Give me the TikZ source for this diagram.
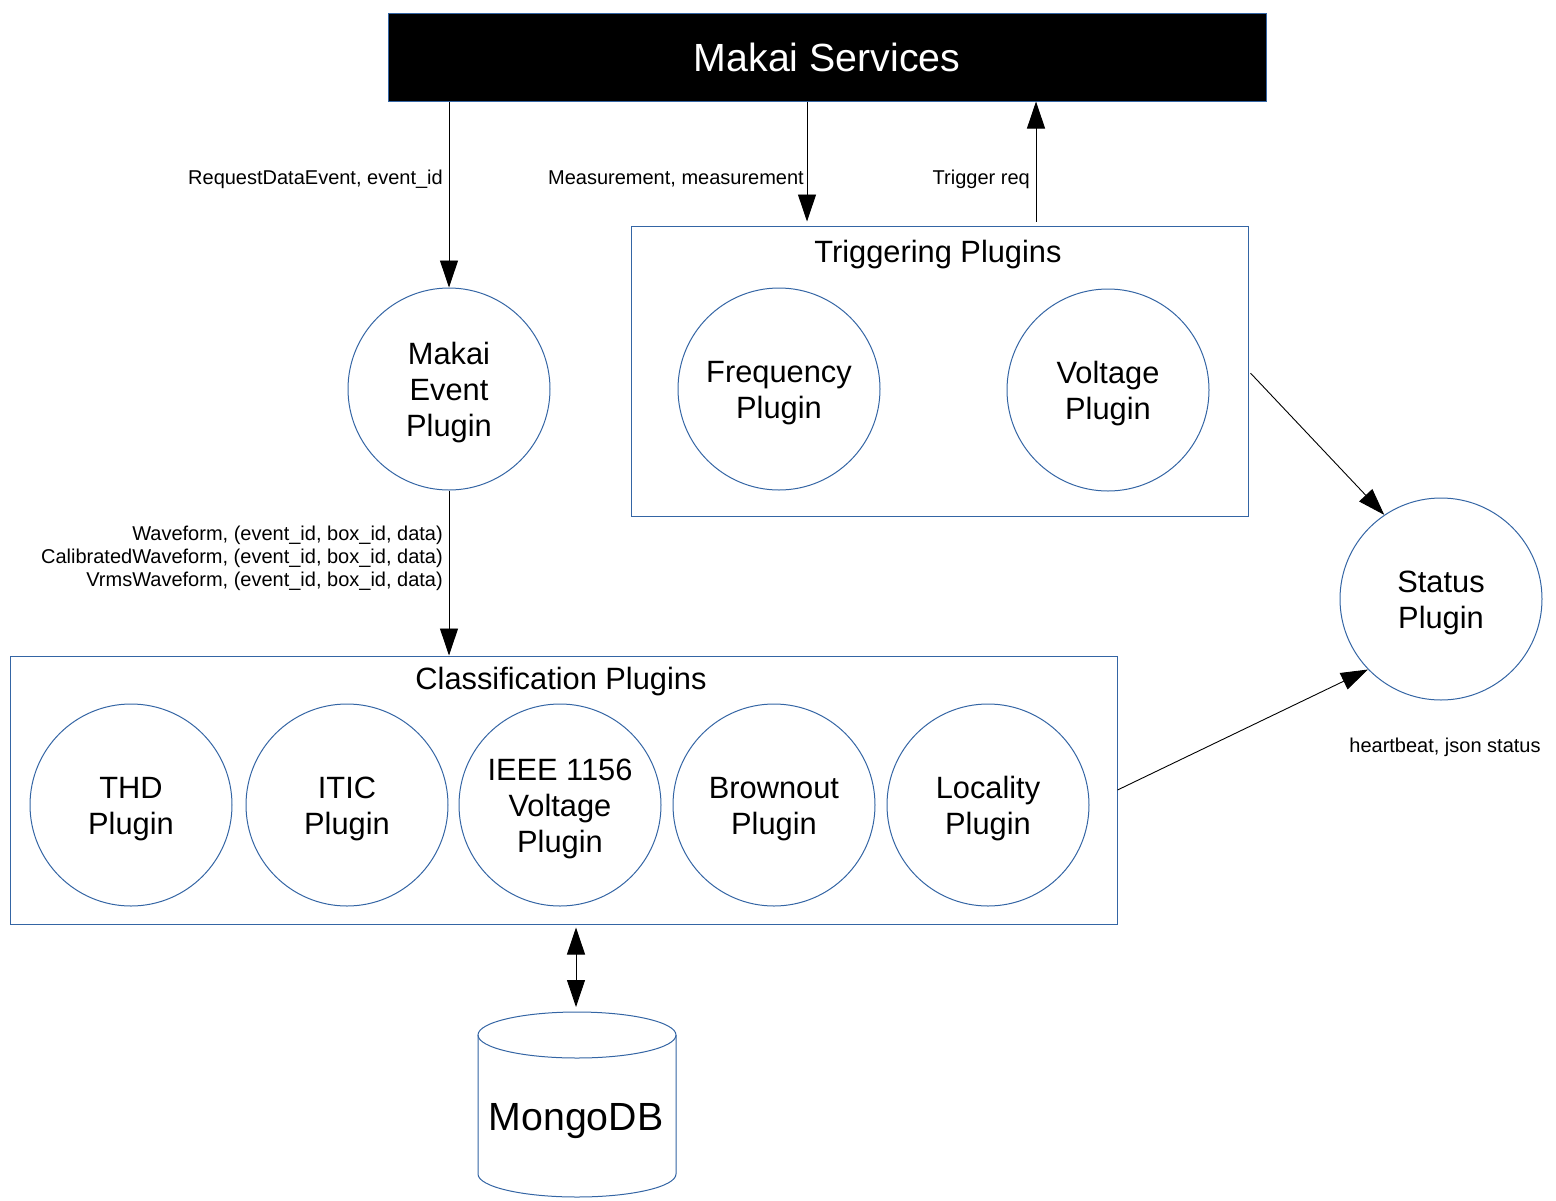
\documentclass[tikz,border=0pt]{standalone}
\usepackage{fontspec}
\setmainfont{Liberation Sans}
\usetikzlibrary{arrows.meta,calc}
\definecolor{lblue}{RGB}{52,101,164}
\newcommand\ctext[1]{\raisebox{-4pt}[\height][\depth]{\begin{tabular}{@{}c@{}}#1\end{tabular}}}
\begin{document}
\begin{tikzpicture}[x=1pt,y=-1pt,
  outl/.style={draw=lblue,line width=1pt},
  plug/.style={outl,circle,minimum size=202pt,inner sep=0pt,font=\fontsize{30.8}{36}\selectfont},
  grp/.style={outl,rectangle,inner sep=0pt},
  ttl/.style={font=\fontsize{30.8}{36}\selectfont,inner sep=0pt},
  lbl/.style={font=\fontsize{20}{23}\selectfont,inner sep=0pt,align=right},
  conn/.style={draw=black,line width=0.9pt,-{Triangle[length=27pt,width=18pt]}},
]
\useasboundingbox (0,0) rectangle (1556,1200);

% Makai Services
\node[grp,fill=black,minimum width=878pt,minimum height=88pt,
      font=\fontsize{39.3}{45}\selectfont,text=white] (ms) at (827,57) {Makai Services};

% Triggering plugins group
\node[grp,minimum width=617pt,minimum height=290pt] (trig) at (939.5,371) {};
\node[ttl] (trigt) at (938,254.5) {Triggering Plugins};
\node[plug] (freq) at (779,389) {\ctext{Frequency\\Plugin}};
\node[plug] (volt) at (1108,390) {\ctext{Voltage\\Plugin}};

% Makai event plugin
\node[plug] (mep) at (449,389) {\ctext{Makai\\Event\\Plugin}};

% Status plugin
\node[plug] (stat) at (1441,599) {\ctext{Status\\Plugin}};

% Classification group
\node[grp,minimum width=1107pt,minimum height=268pt] (cls) at (563.5,790) {};
\node[ttl] (clst) at (561,682) {Classification Plugins};
\node[plug] (thd) at (131,805) {\ctext{THD\\Plugin}};
\node[plug] (itic) at (347,805) {\ctext{ITIC\\Plugin}};
\node[plug] (ieee) at (560,805) {\ctext{IEEE 1156\\Voltage\\Plugin}};
\node[plug] (brown) at (774,805) {\ctext{Brownout\\Plugin}};
\node[plug] (loc) at (988,805) {\ctext{Locality\\Plugin}};

% MongoDB cylinder
\draw[outl,fill=white] (478,1035) -- (478,1174) arc[start angle=180,end angle=0,x radius=99,y radius=23] -- (676,1035);
\draw[outl] (577,1035) ellipse[x radius=99,y radius=23];
\node[font=\fontsize{39.3}{45}\selectfont,inner sep=0pt] (mongo) at (576,1121) {MongoDB};
\coordinate (mongotop) at (576,1012);

% connector x positions
\coordinate (mx) at (807,0);
\coordinate (tx) at (1036,0);
\coordinate (dbx) at (576,0);

% Connectors
\draw[conn] (mep.north |- ms.south) -- (mep.north);
\draw[conn,shorten >=4pt] (ms.south -| mx) -- (trig.north -| mx);
\draw[conn,shorten <=4pt] (trig.north -| tx) -- (ms.south -| tx);
\draw[conn] (mep.south) -- (mep.south |- cls.north);
\draw[conn,shorten <=3pt] (trig.east) -- (stat.124);
\draw[conn] (cls.east) -- (stat.224);
\draw[conn,{Triangle[length=27pt,width=18pt]}-{Triangle[length=27pt,width=18pt]},shorten <=3pt,shorten >=5pt]
  (cls.south -| dbx) -- (mongotop);

% Labels
\node[lbl,anchor=east] (l1) at (443,179) {RequestDataEvent, event\_id};
\node[lbl,anchor=east] (l2) at (804,179) {Measurement, measurement};
\node[lbl,anchor=east] (l3) at (1030,179) {Trigger req};
\node[lbl,anchor=east] (l4) at (443,558) {Waveform, (event\_id, box\_id, data)\\CalibratedWaveform, (event\_id, box\_id, data)\\VrmsWaveform, (event\_id, box\_id, data)};
\node[lbl] (l5) at (1445,747) {heartbeat, json status};
\end{tikzpicture}
\end{document}
